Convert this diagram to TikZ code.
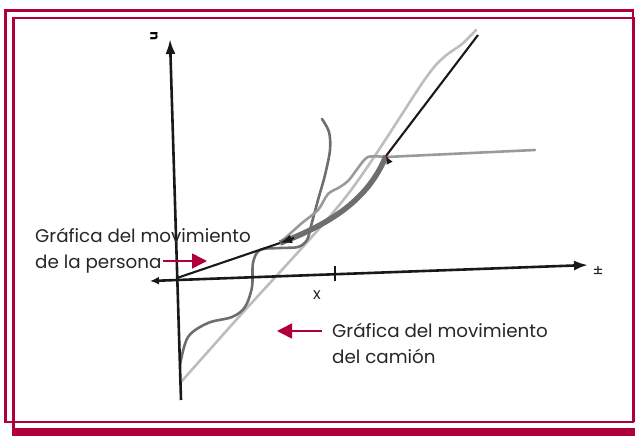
\documentclass[tikz,border=0pt]{standalone}
\usepackage{fontspec}
\setmainfont{Poppins}
\usetikzlibrary{arrows.meta}
\definecolor{crim}{HTML}{B0003A}
\definecolor{dgray}{HTML}{6E6E6E}
\definecolor{mgray}{HTML}{9A9A9A}
\definecolor{lgray}{HTML}{BDBDBD}
\begin{document}
\begin{tikzpicture}[x=1pt,y=-1pt,
  frame/.style={crim,line width=2.2pt},
  axisline/.style={black!90,line width=2.6pt},
  graphline/.style={black!90,line width=2.1pt},
  lbl/.style={font=\fontsize{18.3}{26}\selectfont,align=left,text=black!85,inner sep=0pt},
  redarrow/.style={crim,line width=1.6pt,-{Triangle[length=15pt,width=15pt]}},
  curve/.style={line width=2.6pt,line cap=round}
]
\useasboundingbox (0,0) rectangle (635,436);
% frame
\draw[frame] (5.5,10.5) rectangle (633,422);
\draw[frame] (13.5,436) -- (13.5,18) -- (635,18);
\draw[frame] (634,18) -- (634,422);
\fill[crim] (13.5,428) rectangle (635,436);

% coordinates
\coordinate (vb) at (181,400);
\coordinate (vt) at (170,39);
\coordinate (hl) at (150,281);
\coordinate (hr) at (588,265);
\coordinate (O) at (177,278);
\coordinate (P1) at (280,243);
\coordinate (P2) at (386,156);
\coordinate (P3) at (478,35);
\coordinate (tk1) at (335,266);
\coordinate (tk2) at (335,281);
\coordinate (a1) at (294,238);
\coordinate (a2) at (389,162);

% truck light straight line
\draw[lgray,curve] plot[smooth,tension=0.5] coordinates {(181,382) (237,319) (345,198) (423,82) (443,58) (462,44) (476,30)};
% truck dark S-curve
\draw[dgray,curve] plot[smooth,tension=0.55] coordinates {(180,365) (188,337) (208,323) (232,317) (245,307) (252,287) (253,263) (260,250) (280,248) (298,247) (307,240) (311,226) (318,200) (325,175) (330,150) (329,132) (322,119)};
% person's gray wiggle
\draw[mgray,curve] plot[smooth,tension=0.5] coordinates {(283,240) (302,223) (318,210) (328,194) (340,187) (349,180) (358,168) (368,157) (386,157)} -- (535,150);

% axes
\draw[axisline,-{Latex[length=15pt,width=10pt]}] (vb) -- (vt);
\draw[axisline,{Latex[length=9pt,width=8pt]}-{Latex[length=14pt,width=10pt]}] (hl) -- (hr);
\draw[axisline] (tk1) -- (tk2);
\node[font=\fontsize{16}{16}\selectfont,text=black!85] (xl) at (317,295) {x};
\node[font=\fontsize{16}{16}\selectfont,text=black!85] (pm) at (598,272) {±};
\node[font=\bfseries\fontsize{13}{13}\selectfont] (ul) at (154,36) {\rotatebox{90}{u}};

% person's graph
\draw[graphline] (O) -- (P1);
\draw[dgray,line width=5.5pt] (P1) .. controls (330,224) and (368,200) .. (P2);
\draw[graphline] (P2) -- (P3);
\draw[graphline,-{Latex[length=12pt,width=9pt]}] (a1) -- (P1);
\draw[graphline,-{Latex[length=8pt,width=7pt]}] (a2) -- (P2);
\fill[crim] (P2) circle (1pt);

% labels
\node[lbl,anchor=base west] (t1) at (35,268) {Gráfica del movimiento\\de la persona};
\coordinate (r1s) at (163,261);
\coordinate (r1e) at (207,261);
\draw[redarrow] (r1s) -- (r1e);
\node[lbl,anchor=base west] (t2) at (332,363) {Gráfica del movimiento\\del camión};
\coordinate (r2s) at (322,331);
\coordinate (r2e) at (277,331);
\draw[redarrow] (r2s) -- (r2e);
\end{tikzpicture}
\end{document}
